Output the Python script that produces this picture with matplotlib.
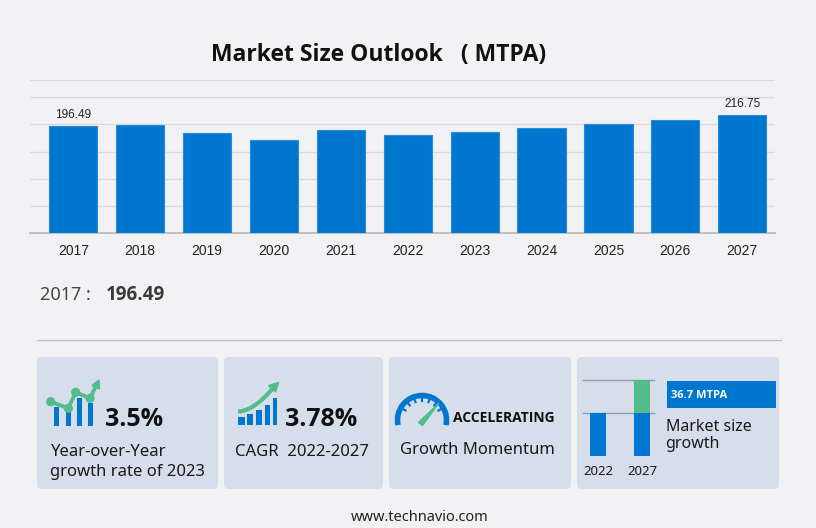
import matplotlib
matplotlib.use("Agg")
import matplotlib.pyplot as plt
from matplotlib.patches import FancyBboxPatch, Rectangle, Arc, Polygon
import numpy as np

# ---- data ----
years = ["2017", "2018", "2019", "2020", "2021", "2022", "2023", "2024", "2025", "2026", "2027"]
values = [196.49, 198.9, 184.7, 171.3, 189.1, 180.06, 186.36, 193.3, 200.7, 208.0, 216.75]
labelled = {0: "196.49", 10: "216.75"}
title = "Market Size Outlook   ( MTPA)"
yoy_text = "3.5%"
cagr_text = "3.78%"
momentum_text = "ACCELERATING"
growth_text = "36.7 MTPA"
mini_years = ["2022", "2027"]
mini_base = [180.06, 180.06]
mini_incr = [0, 36.69]

BG = "#f2f2f5"
CARD = "#d5deea"
BLUE = "#0077cf"
GREEN = "#52bd8b"

W, H = 816, 528
fig = plt.figure(figsize=(W / 100, H / 100), dpi=100, facecolor=BG)

ov = fig.add_axes([0, 0, 1, 1], zorder=0)
ov.set_xlim(0, W)
ov.set_ylim(H, 0)
ov.axis("off")
ov.patch.set_alpha(0)

# ---- main bar chart ----
L, R, T, B = 30, 775, 80.3, 233.3
ax = fig.add_axes([L / W, 1 - B / H, (R - L) / W, (B - T) / H], zorder=2)
ax.patch.set_alpha(0)
x = np.arange(len(years))
ax.bar(x, values, width=0.72, color=BLUE, edgecolor="#2a8ad6", linewidth=0.8, zorder=3)
ax.set_xlim(-0.648, 10.49)
ax.set_ylim(0, 281)
ax.set_yticks([50, 100, 150, 200, 250, 281])
ax.yaxis.grid(True, color="#d9d9de", linewidth=1)
ax.set_axisbelow(True)
ax.tick_params(axis="y", left=False, labelleft=False)
ax.set_xticks(x)
ax.set_xticklabels(years, fontsize=10, family="Liberation Sans", color="#222222")
ax.tick_params(axis="x", length=0, pad=8)
for s in ["top", "right", "left"]:
    ax.spines[s].set_visible(False)
ax.spines["bottom"].set_color("#b5b5b8")
ax.spines["bottom"].set_linewidth(1.2)
for i, txt in labelled.items():
    ax.annotate(txt, (x[i], values[i]), xytext=(0, 3.5), textcoords="offset points",
                ha="center", va="bottom", fontsize=8.5, family="Liberation Sans", color="#222222")

BF = "Open Sans"
FF = "Noto Sans"
TXT = "#1a1a1a"

# ---- title ----
ov.text(379, 60.5, title, ha="center", va="baseline", fontsize=16.5, fontweight="bold",
        family=BF, color="#111111")

# ---- selected value ----
ov.text(40.5, 300, "2017 :", ha="left", va="baseline", fontsize=13, family=FF, color="#444444")
ov.text(105.5, 300, "196.49", ha="left", va="baseline", fontsize=13.5, fontweight="bold",
        family=BF, color="#3a3a3a")

ov.plot([37, 781], [340, 340], color="#b8c0d6", linewidth=1)

# ---- cards ----
cards = [(37, 218), (224, 383), (389, 571), (577, 779)]
for x0, x1 in cards:
    ov.add_patch(FancyBboxPatch((x0 + 4, 357 + 4), x1 - x0 - 8, 489 - 357 - 8,
                                boxstyle="round,pad=4,rounding_size=5", fc=CARD, ec="none"))

# card 1 icon
for bx0, bx1, top in [(54, 58.5, 406.7), (66, 70.7, 411.7), (76.7, 81.7, 397.7), (88.3, 93.3, 403.3)]:
    ov.add_patch(Rectangle((bx0, top), bx1 - bx0, 426 - top, fc=BLUE, ec="none"))
pts = [(50.7, 401.7), (68.3, 408.3), (75.7, 392.3), (90, 398.3), (95.5, 387)]
ov.plot([p[0] for p in pts], [p[1] for p in pts], color=GREEN, linewidth=2.8, solid_capstyle="butt")
for p in pts[:4]:
    ov.add_patch(plt.Circle(p, 3.9, color=GREEN))
ov.add_patch(Polygon([(92, 385.5), (99, 380), (99.5, 389)], closed=True, fc=GREEN, ec=GREEN))
ov.text(105, 426, yoy_text, ha="left", va="baseline", fontsize=18, fontweight="bold", family=BF, color="#111111")
ov.text(50.5, 456, "Year-over-Year", ha="left", va="baseline", fontsize=12, family=FF, color=TXT)
ov.text(50.5, 476.5, "growth rate of 2023", ha="left", va="baseline", fontsize=12, family=FF, color=TXT)

# card 2 icon
for bx0, bx1, top in [(238.3, 245, 416.7), (247.3, 253.3, 414.3), (256, 261.7, 410), (265, 270, 405), (272.7, 277.3, 397.7)]:
    ov.add_patch(Rectangle((bx0, top), bx1 - bx0, 425.3 - top, fc=BLUE, ec="none"))
t = np.linspace(0, 1, 30)
cx = 238 + (273 - 238) * t
cy = 411.5 - (411.5 - 388) * t ** 1.8
ov.plot(cx, cy, color=GREEN, linewidth=3, solid_capstyle="butt")
ov.add_patch(Polygon([(268.5, 385.5), (278.5, 382.5), (275.5, 392)], closed=True, fc=GREEN, ec=GREEN))
ov.text(285, 426, cagr_text, ha="left", va="baseline", fontsize=18, fontweight="bold", family=BF, color="#111111")
ov.text(235, 456, "CAGR  2022-2027", ha="left", va="baseline", fontsize=12, family=FF, color=TXT)

# card 3 gauge
gcx, gcy, gr = 422, 420, 24.5
ov.add_patch(Arc((gcx, gcy), 2 * gr, 2 * gr, theta1=168, theta2=372, color=BLUE, linewidth=4))
for ang in np.linspace(150, 30, 7):
    a = np.radians(ang)
    ov.plot([gcx + (gr - 1) * np.cos(a), gcx + (gr - 5.5) * np.cos(a)],
            [gcy - (gr - 1) * np.sin(a), gcy - (gr - 5.5) * np.sin(a)], color=BLUE, linewidth=1.6)
ov.add_patch(Polygon([(418.5, 422.5), (422.5, 425.5), (439, 403)], closed=True, fc=GREEN, ec=GREEN))
ov.text(453, 421.7, momentum_text, ha="left", va="baseline", fontsize=10, fontweight="bold",
        family=BF, color="#111111")
ov.text(400.5, 454, "Growth Momentum", ha="left", va="baseline", fontsize=12, family=FF, color=TXT)

# card 4 mini chart
ov.plot([583, 654], [380, 380], color="#8e9bb3", linewidth=1)
ov.plot([583, 654], [412.7, 412.7], color="#8e9bb3", linewidth=1)
mx = [598, 642.3]
px_per_unit = (456 - 412.7) / mini_base[0]
for i in range(2):
    base_top = 456 - mini_base[i] * px_per_unit
    ov.add_patch(Rectangle((mx[i] - 8.2, base_top), 16.4, 456 - base_top, fc=BLUE, ec="none", zorder=3))
    if mini_incr[i] > 0:
        inc_top = 380
        ov.add_patch(Rectangle((mx[i] - 8.2, inc_top), 16.4, base_top - inc_top, fc=GREEN, ec="none", zorder=3))
    ov.text(mx[i], 475, mini_years[i], ha="center", va="baseline", fontsize=9.5, family=FF, color=TXT)
ov.add_patch(Rectangle((667, 381), 109, 26.7, fc=BLUE, ec="none"))
ov.text(671, 395, growth_text, ha="left", va="center", fontsize=8, fontweight="bold", family=BF, color="white")
ov.text(665.5, 431, "Market size", ha="left", va="baseline", fontsize=11.5, family=FF, color=TXT)
ov.text(665.5, 448, "growth", ha="left", va="baseline", fontsize=11.5, family=FF, color=TXT)

# footer
ov.text(419.7, 521, "www.technavio.com", ha="center", va="baseline", fontsize=10.5, family=FF, color="#222222")

fig.savefig("out.png", dpi=100, facecolor=BG)
